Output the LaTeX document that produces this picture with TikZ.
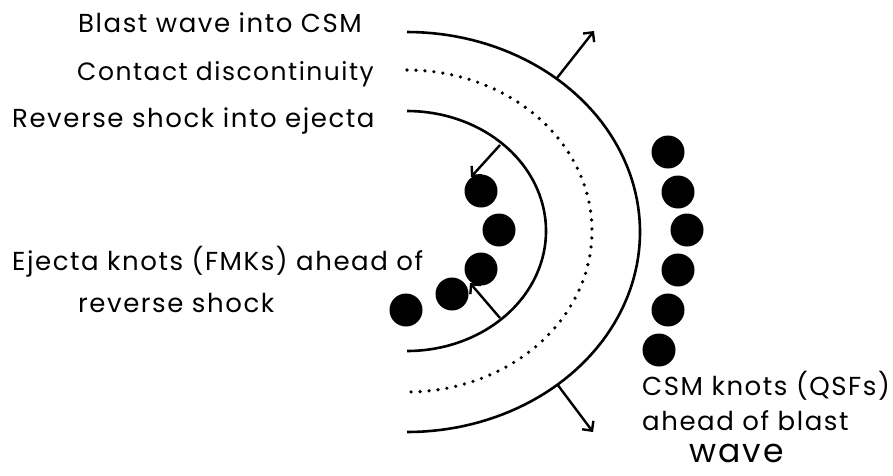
\documentclass[tikz,border=0pt]{standalone}
\usepackage{fontspec}
\setmainfont{Poppins}[LetterSpace=6]
\usetikzlibrary{arrows.meta}
\begin{document}
\begin{tikzpicture}[x=1pt,y=-1pt,
  lbl/.style={anchor=base west, inner sep=0pt, font=\fontsize{26}{30}\selectfont},
  shock/.style={line width=2.6pt},
  cd/.style={line width=3.6pt, line cap=round, dash pattern=on 0pt off 9pt},
  mot/.style={line width=2.4pt, -{Straight Barb[length=7pt,width=14pt,line width=2.4pt]}},
  knot/.style={circle, fill=black, minimum size=33pt, inner sep=0pt}]
\useasboundingbox (0,0) rectangle (893,475);
% labels
\node[lbl] (lbw) at (78,32) {Blast wave into CSM};
\node[lbl, font=\fontsize{25}{30}\selectfont] (lcd) at (77,80) {Contact discontinuity};
\node[lbl] (lrs) at (12,127) {Reverse shock into ejecta};
\node[lbl] (lfk1) at (12,270) {Ejecta knots (FMKs) ahead of};
\node[lbl] (lfk2) at (78,312) {reverse shock};
\node[lbl] (lq1) at (642,395) {CSM knots (QSFs)};
\node[lbl] (lq2) at (642,430) {ahead of blast};
\node[lbl, font=\fontsize{33}{36}\selectfont] (lq3) at (689,462) {wave};
% shells
\draw[shock] plot[domain=-90:90, samples=90] ({407+233*cos(\x)}, {232+200*sin(\x)});
\draw[cd] plot[domain=-90:90, samples=90] ({407+185*cos(\x)}, {231+161*sin(\x)});
\draw[shock] plot[domain=-90:90, samples=90] ({407+139*cos(\x)}, {231+120*sin(\x)});
% motion arrows
\coordinate (bwt) at (557,78);
\coordinate (bwtE) at (594,31);
\coordinate (bwb) at (557,384);
\coordinate (bwbE) at (593,432);
\coordinate (rst) at (500,145);
\coordinate (rstE) at (471,177);
\coordinate (rsb) at (500,318);
\coordinate (rsbE) at (470,283);
\draw[mot] (bwt) -- (bwtE);
\draw[mot] (bwb) -- (bwbE);
\draw[mot] (rst) -- (rstE);
\draw[mot] (rsb) -- (rsbE);
% ejecta knots
\node[knot] (f1) at (481,191) {};
\node[knot] (f2) at (499,230) {};
\node[knot] (f3) at (481,269) {};
\node[knot] (f4) at (452,294) {};
\node[knot] (f5) at (406,310) {};
% CSM knots
\node[knot] (q1) at (668,152) {};
\node[knot] (q2) at (678,192) {};
\node[knot] (q3) at (687,230) {};
\node[knot] (q4) at (678,270) {};
\node[knot] (q5) at (668,310) {};
\node[knot] (q6) at (659,350) {};
\end{tikzpicture}
\end{document}
